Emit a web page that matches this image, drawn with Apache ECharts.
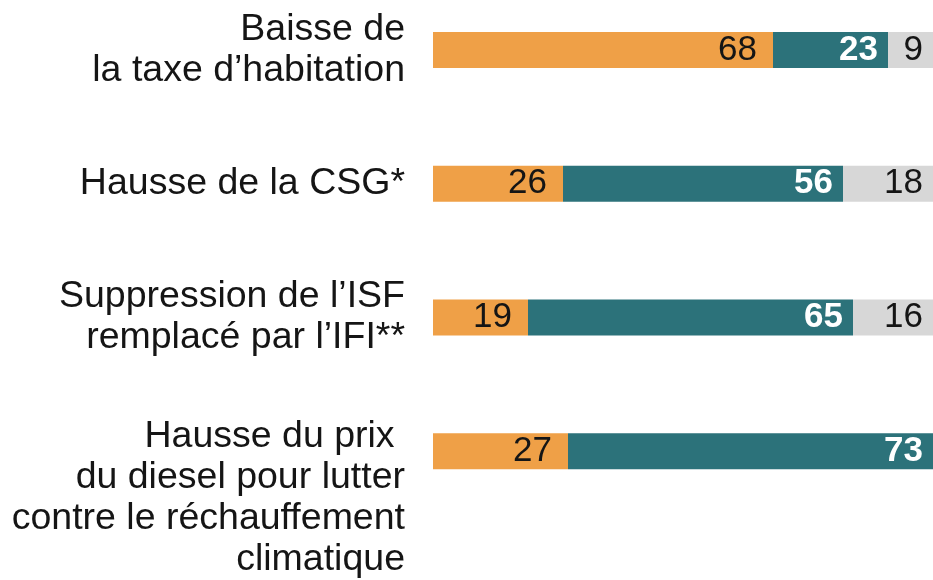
<!DOCTYPE html>
<html>
<head>
<meta charset="utf-8">
<script src="https://cdn.jsdelivr.net/npm/echarts@6/dist/echarts.min.js"></script>
<style>
html,body{margin:0;padding:0;background:#fff;}
#chart{width:933px;height:580px;}
</style>
</head>
<body>
<div id="chart"></div>
<script>
const categories = [
  "Baisse de\nla taxe d’habitation",
  "Hausse de la CSG*",
  "Suppression de l’ISF\nremplacé par l’IFI**",
  "Hausse du prix \ndu diesel pour lutter\ncontre le réchauffement\nclimatique"
];
const orangeValues = [68, 26, 19, 27];
const tealValues = [23, 56, 65, 73];
const greyValues = [9, 18, 16, 0];

const FONT = '"Liberation Sans", Arial, Helvetica, sans-serif';
const chart = echarts.init(document.getElementById('chart'), null, {renderer: 'canvas'});

function labelCfg(color, weight, dist) {
  return {
    show: true,
    position: 'insideRight',
    distance: dist,
    fontSize: 35,
    fontFamily: FONT,
    color: color,
    fontWeight: weight,
    formatter: p => (p.value > 0 ? String(p.value) : '')
  };
}

const option = {
  animation: false,
  backgroundColor: '#ffffff',
  grid: {left: 433, width: 500, top: -17, height: 535, containLabel: false, outerBoundsMode: 'none'},
  xAxis: {
    type: 'value', min: 0, max: 100, show: false
  },
  yAxis: {
    type: 'category',
    inverse: true,
    data: categories,
    axisLine: {show: false},
    axisTick: {show: false},
    splitLine: {show: false},
    axisLabel: {
      interval: 0,
      hideOverlap: false,
      margin: 28,
      fontSize: 37.5,
      lineHeight: 41,
      color: '#151515',
      fontFamily: FONT,
      align: 'right',
      formatter: (value) => (value.split('\n').length > 3 ? '{sp| }\n' + value : value),
      rich: {
        sp: {fontSize: 10, lineHeight: 94, height: 94}
      }
    }
  },
  series: [
    {name: 'orange', type: 'bar', stack: 'total', barWidth: 36, data: orangeValues,
     itemStyle: {color: '#EFA047'}, label: labelCfg('#151515', 'normal', 16)},
    {name: 'teal', type: 'bar', stack: 'total', barWidth: 36, data: tealValues,
     itemStyle: {color: '#2C727A'}, label: labelCfg('#ffffff', 'bold', 10)},
    {name: 'grey', type: 'bar', stack: 'total', barWidth: 36, data: greyValues,
     itemStyle: {color: '#D7D7D7'}, label: labelCfg('#151515', 'normal', 10)}
  ]
};
chart.setOption(option);
</script>
</body>
</html>
